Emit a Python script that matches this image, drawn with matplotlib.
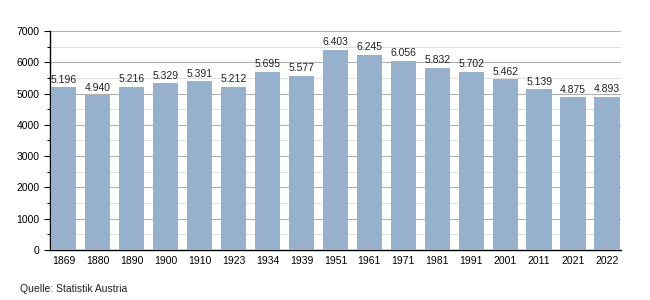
import matplotlib
matplotlib.use("Agg")
import matplotlib.pyplot as plt
from matplotlib.ticker import MultipleLocator

years = ["1869", "1880", "1890", "1900", "1910", "1923", "1934", "1939", "1951",
         "1961", "1971", "1981", "1991", "2001", "2011", "2021", "2022"]
population = [5196, 4940, 5216, 5329, 5391, 5212, 5695, 5577, 6403,
              6245, 6056, 5832, 5702, 5462, 5139, 4875, 4893]
source = "Quelle: Statistik Austria"

plt.rcParams['font.family'] = ['Liberation Sans', 'DejaVu Sans']

fig = plt.figure(figsize=(6.5, 3.0), dpi=100)
ax = fig.add_axes([0.077, 0.1667, 0.878, 0.73])

x = list(range(len(years)))
ax.bar(x, population, width=0.75, color="#97b1cc", zorder=3)
for xi, v in zip(x, population):
    ax.text(xi, v + 80, f"{v/1000:.3f}", ha="center", va="bottom", fontsize=7.5, color="#222222", zorder=4)

ax.set_xlim(-0.4, len(years) - 0.6)
ax.set_ylim(0, 7000)
ax.yaxis.set_major_locator(MultipleLocator(1000))
ax.yaxis.set_minor_locator(MultipleLocator(500))
ax.grid(axis="y", which="major", color="#b0b0b0", linewidth=0.8, zorder=0)
ax.grid(axis="y", which="minor", color="#e0e0e0", linewidth=0.8, zorder=0)
ax.set_xticks(x)
ax.set_xticklabels(years)
ax.tick_params(axis="x", length=0, labelsize=7.5, pad=4)
ax.tick_params(axis="y", which="major", length=4, labelsize=7.5, width=0.8)
ax.tick_params(axis="y", which="minor", length=2, width=0.8)
for s in ["top", "right"]:
    ax.spines[s].set_visible(False)
ax.spines["left"].set_linewidth(1.0)
ax.spines["bottom"].set_linewidth(1.0)

fig.text(20 / 650, 1 - 289 / 300, source, fontsize=7.5, va="center", ha="left", color="#222222")

fig.savefig("out.png", dpi=100)
